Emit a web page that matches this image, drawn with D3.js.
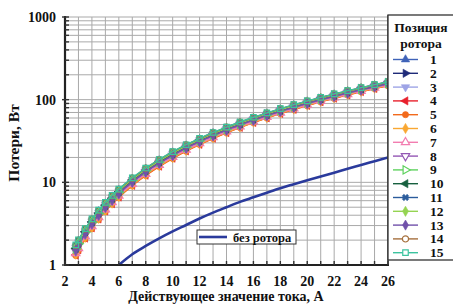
<!DOCTYPE html>
<html>
<head>
<meta charset="utf-8">
<script src="https://cdn.jsdelivr.net/npm/d3@7"></script>
<style>
  body { margin: 0; background: #fff; }
  svg text { font-family: "Liberation Serif", "Times New Roman", serif; font-weight: bold; fill: #111; }
</style>
</head>
<body>
<svg id="chart" width="453" height="304"></svg>
<script>
// ток, А (общая сетка по X для всех позиций ротора)
const current = [2.8, 3, 3.5, 4, 4.5, 5, 5.5, 6, 7, 8, 9, 10, 11, 12, 13, 14, 15, 16, 17, 18, 19, 20, 21, 22, 23, 24, 25, 26];

// потери, Вт — позиции ротора 1..15
const pos1  = [1.68,1.94,2.66,3.49,4.45,5.52,6.71,8.02,11.0,14.5,18.4,22.9,27.8,33.2,39.2,45.6,52.5,60.0,67.9,76.4,85.3,94.7,104.8,115.2,126.2,137.7,149.8,162.2];
const pos2  = [1.66,1.91,2.63,3.45,4.40,5.46,6.64,7.94,10.9,14.3,18.2,22.7,27.6,33.0,38.9,45.3,52.1,59.6,67.4,75.9,84.8,94.2,104.2,114.6,125.5,136.9,149.0,161.4];
const pos3  = [1.62,1.86,2.56,3.37,4.29,5.33,6.49,7.77,10.7,14.0,17.9,22.3,27.1,32.4,38.2,44.6,51.3,58.7,66.5,74.9,83.7,93.0,102.9,113.2,124.0,135.4,147.3,159.7];
const pos4  = [1.32,1.53,2.12,2.82,3.61,4.52,5.53,6.65,9.21,12.2,15.7,19.6,24.0,28.9,34.2,40.0,46.3,53.1,60.4,68.2,76.4,85.2,94.5,104.3,114.5,125.4,136.7,148.6];
const pos5  = [1.30,1.50,2.09,2.77,3.56,4.45,5.45,6.56,9.10,12.1,15.5,19.4,23.8,28.6,33.9,39.7,45.9,52.7,59.9,67.7,75.9,84.6,93.9,103.6,113.8,124.6,135.9,147.7];
const pos6  = [1.35,1.56,2.16,2.86,3.66,4.58,5.60,6.73,9.33,12.4,15.9,19.8,24.3,29.1,34.5,40.4,46.7,53.6,60.8,68.7,77.0,85.8,95.2,105.0,115.3,126.1,137.5,149.4];
const pos7  = [1.39,1.60,2.22,2.94,3.77,4.70,5.75,6.90,9.55,12.6,16.2,20.2,24.7,29.7,35.1,41.1,47.5,54.4,61.8,69.7,78.1,87.0,96.5,106.3,116.7,127.7,139.2,151.1];
const pos8  = [1.48,1.71,2.36,3.11,3.98,4.96,6.04,7.25,10.0,13.2,16.9,21.0,25.7,30.8,36.4,42.5,49.0,56.1,63.7,71.8,80.3,89.4,99.0,109.1,119.6,130.8,142.4,154.5];
const pos9  = [1.57,1.81,2.49,3.28,4.19,5.21,6.34,7.59,10.5,13.8,17.6,21.9,26.6,31.9,37.6,43.9,50.6,57.8,65.5,73.8,82.5,91.8,101.6,111.8,122.6,133.8,145.7,158.0];
const pos10 = [1.59,1.83,2.53,3.32,4.24,5.27,6.41,7.68,10.6,13.9,17.7,22.1,26.9,32.2,37.9,44.2,51.0,58.3,66.0,74.3,83.1,92.4,102.3,112.5,123.3,134.6,146.5,158.8];
const pos11 = [1.71,1.96,2.69,3.54,4.50,5.59,6.78,8.11,11.1,14.6,18.6,23.1,28.1,33.5,39.5,46.0,52.9,60.4,68.4,76.9,85.9,95.3,105.5,115.9,127.0,138.5,150.6,163.1];
const pos12 = [1.64,1.88,2.59,3.41,4.34,5.40,6.56,7.85,10.8,14.2,18.1,22.5,27.4,32.7,38.5,44.9,51.7,59.1,67.0,75.4,84.2,93.6,103.5,113.9,124.8,136.2,148.1,160.5];
const pos13 = [1.53,1.76,2.42,3.20,4.08,5.08,6.19,7.42,10.2,13.5,17.2,21.4,26.2,31.3,37.0,43.2,49.8,57.0,64.6,72.8,81.4,90.6,100.3,110.5,121.1,132.3,144.1,156.3];
const pos14 = [1.73,1.99,2.73,3.58,4.55,5.65,6.86,8.20,11.2,14.8,18.8,23.3,28.3,33.8,39.8,46.3,53.3,60.9,68.8,77.4,86.4,95.9,106.1,116.6,127.7,139.2,151.4,163.9];
const pos15 = [1.75,2.01,2.76,3.62,4.61,5.71,6.94,8.28,11.35,14.9,18.9,23.5,28.5,34.1,40.1,46.6,53.7,61.3,69.3,77.9,87.0,96.6,106.7,117.3,128.4,140.0,152.2,164.8];

// без ротора
const noRotorI = [6, 7, 8, 9, 10, 11, 12, 13, 14, 15, 16, 17, 18, 19, 20, 21, 22, 23, 24, 25, 26];
const noRotorP = [1.0, 1.35, 1.7, 2.1, 2.55, 3.05, 3.65, 4.3, 5.0, 5.8, 6.6, 7.5, 8.5, 9.5, 10.6, 11.8, 13.1, 14.6, 16.2, 18.0, 20.0];

const posNames = ["1","2","3","4","5","6","7","8","9","10","11","12","13","14","15"];
const posValues = [pos1,pos2,pos3,pos4,pos5,pos6,pos7,pos8,pos9,pos10,pos11,pos12,pos13,pos14,pos15];

const xTickLabels = [2,4,6,8,10,12,14,16,18,20,22,24,26];
const yTickLabels = [1,10,100,1000];

// стиль маркеров: [цвет, символ, поворот, полый]
const styles = [
  ["#3f63b8", d3.symbolTriangle, 0, false],
  ["#1e2a78", d3.symbolTriangle, 90, false],
  ["#9ea4e6", d3.symbolTriangle, 180, false],
  ["#e8202c", d3.symbolTriangle, -90, false],
  ["#f26a1c", d3.symbolCircle, 0, false],
  ["#f9a732", d3.symbolDiamond, 0, false],
  ["#f27db0", d3.symbolTriangle, 0, true],
  ["#9457b4", d3.symbolTriangle, 180, true],
  ["#5fd25f", d3.symbolTriangle, 90, true],
  ["#17603f", d3.symbolTriangle, -90, false],
  ["#2b5c9c", d3.symbolCross, 45, false],
  ["#95d452", d3.symbolDiamond, 0, false],
  ["#7151aa", d3.symbolDiamond, 0, false],
  ["#a6703e", d3.symbolCircle, 0, true],
  ["#3cc39f", d3.symbolSquare, 0, true]
];

const svg = d3.select("#chart");
const L = 65, R = 388, T = 17, B = 265;

const x = d3.scaleLinear().domain([2, 26]).range([L, R]);
const y = d3.scaleLog().domain([1, 1000]).range([B, T]);

/*** сетка ***/
const grid = svg.append("g");
grid.selectAll("line.v")
  .data(d3.range(2, 27))
  .enter().append("line")
  .attr("x1", d => x(d)).attr("x2", d => x(d))
  .attr("y1", T).attr("y2", B)
  .attr("stroke", "#a9a9a9").attr("stroke-width", 1);

const yMinor = y.ticks();
grid.selectAll("line.h")
  .data(yMinor)
  .enter().append("line")
  .attr("x1", L).attr("x2", R)
  .attr("y1", d => y(d)).attr("y2", d => y(d))
  .attr("stroke", "#a9a9a9").attr("stroke-width", 1);

/*** без ротора ***/
svg.append("clipPath").attr("id", "clip")
  .append("rect").attr("x", L).attr("y", T).attr("width", R - L).attr("height", B - T);

const plot = svg.append("g").attr("clip-path", "url(#clip)");

plot.append("path")
  .datum(noRotorI.map((v, i) => [v, noRotorP[i]]))
  .attr("fill", "none")
  .attr("stroke", "#2a3a9c")
  .attr("stroke-width", 2.6)
  .attr("d", d3.line().x(d => x(d[0])).y(d => y(d[1])).curve(d3.curveMonotoneX));

/*** позиции ротора ***/
posValues.forEach((vals, k) => {
  const st = styles[k];
  const pts = current.map((c, i) => [c, vals[i]]);
  plot.append("path")
    .datum(pts)
    .attr("fill", "none")
    .attr("stroke", st[0])
    .attr("stroke-width", 1.4)
    .attr("d", d3.line().x(d => x(d[0])).y(d => y(d[1])).curve(d3.curveMonotoneX));
  plot.append("g").selectAll("path")
    .data(pts)
    .enter().append("path")
    .attr("transform", d => `translate(${x(d[0])},${y(d[1])}) rotate(${st[2]})`)
    .attr("d", d3.symbol().type(st[1]).size(st[1] === d3.symbolCross ? 24 : 30)())
    .attr("fill", st[3] ? "none" : st[0])
    .attr("stroke", st[0])
    .attr("stroke-width", st[3] ? 1.2 : 0.6);
});

/*** оси ***/
const axes = svg.append("g");
axes.append("line").attr("x1", L).attr("x2", L).attr("y1", T - 1).attr("y2", B + 1)
  .attr("stroke", "#222").attr("stroke-width", 2.2);
axes.append("line").attr("x1", L - 1).attr("x2", R + 1).attr("y1", B).attr("y2", B)
  .attr("stroke", "#222").attr("stroke-width", 2.2);
axes.append("line").attr("x1", R).attr("x2", R).attr("y1", 15).attr("y2", B)
  .attr("stroke", "#333").attr("stroke-width", 1.3);

// засечки
axes.selectAll("line.xt")
  .data(d3.range(2, 27))
  .enter().append("line")
  .attr("x1", d => x(d)).attr("x2", d => x(d))
  .attr("y1", B).attr("y2", B - 4)
  .attr("stroke", "#333").attr("stroke-width", 1.4);
axes.selectAll("line.yt")
  .data(yMinor)
  .enter().append("line")
  .attr("x1", d => yTickLabels.includes(d) ? L - 3 : L).attr("x2", L + 4)
  .attr("y1", d => y(d)).attr("y2", d => y(d))
  .attr("stroke", "#333").attr("stroke-width", 1.4);

axes.selectAll("text.xl")
  .data(xTickLabels)
  .enter().append("text")
  .attr("x", d => x(d)).attr("y", 286)
  .attr("text-anchor", "middle")
  .attr("font-size", 14)
  .text(d => d);
axes.selectAll("text.yl")
  .data(yTickLabels)
  .enter().append("text")
  .attr("x", 56).attr("y", d => y(d) + 5)
  .attr("text-anchor", "end")
  .attr("font-size", 14)
  .text(d => d);

svg.append("text")
  .attr("x", 226).attr("y", 301)
  .attr("text-anchor", "middle")
  .attr("font-size", 14)
  .text("Действующее значение тока, А");
svg.append("text")
  .attr("transform", "translate(19,143) rotate(-90)")
  .attr("text-anchor", "middle")
  .attr("font-size", 15.5)
  .text("Потери, Вт");

/*** легенда позиций ***/
const leg = svg.append("g");
leg.append("rect")
  .attr("x", R).attr("y", 15).attr("width", 80).attr("height", 245)
  .attr("fill", "#fff").attr("stroke", "#333").attr("stroke-width", 1.3);
leg.append("text").attr("x", 421).attr("y", 32).attr("text-anchor", "middle").attr("font-size", 13.5).text("Позиция");
leg.append("text").attr("x", 421).attr("y", 48).attr("text-anchor", "middle").attr("font-size", 13.5).text("ротора");

posNames.forEach((name, k) => {
  const st = styles[k];
  const cy = 59.5 + k * 13.8;
  leg.append("line")
    .attr("x1", 393).attr("x2", 418).attr("y1", cy).attr("y2", cy)
    .attr("stroke", st[0]).attr("stroke-width", 1.4);
  leg.append("path")
    .attr("transform", `translate(405.5,${cy}) rotate(${st[2]})`)
    .attr("d", d3.symbol().type(st[1]).size(st[1] === d3.symbolCross ? 26 : 30)())
    .attr("fill", st[3] ? "#fff" : st[0])
    .attr("stroke", st[0])
    .attr("stroke-width", st[3] ? 1.2 : 0.6);
  leg.append("text")
    .attr("x", 430).attr("y", cy + 4.5)
    .attr("font-size", 13.5)
    .text(name);
});

/*** легенда «без ротора» ***/
const leg2 = svg.append("g");
leg2.append("rect")
  .attr("x", 197).attr("y", 230).attr("width", 99).attr("height", 14)
  .attr("fill", "#fff").attr("stroke", "#333").attr("stroke-width", 1);
leg2.append("line")
  .attr("x1", 199).attr("x2", 227).attr("y1", 237).attr("y2", 237)
  .attr("stroke", "#2a3a9c").attr("stroke-width", 2.6);
leg2.append("text")
  .attr("x", 233).attr("y", 241.5)
  .attr("font-size", 12.5)
  .text("без ротора");
</script>
</body>
</html>
